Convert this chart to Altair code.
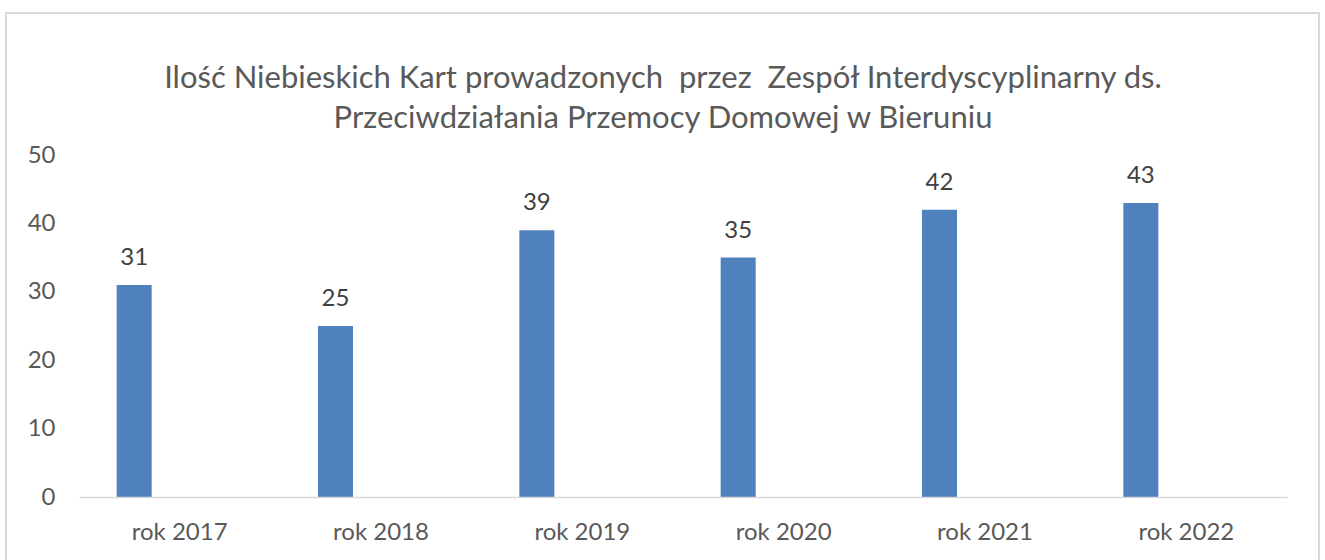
import altair as alt
import pandas as pd

years = ["rok 2017", "rok 2018", "rok 2019", "rok 2020", "rok 2021", "rok 2022"]
values = [31, 25, 39, 35, 42, 43]
title_lines = [
    "Ilość Niebieskich Kart prowadzonych \u00a0przez \u00a0Zespół Interdyscyplinarny ds.",
    "Przeciwdziałania Przemocy Domowej w Bieruniu",
]

df = pd.DataFrame({"rok": years, "ilosc": values})

FONT = "Lato"
GREY = "#595959"

x = alt.X("rok:N", sort=years, title=None,
          scale=alt.Scale(paddingInner=0, paddingOuter=0),
          axis=alt.Axis(labelAngle=0, labelFontSize=24, labelColor=GREY, labelFont=FONT,
                        ticks=False, domainColor="#d9d9d9", domainWidth=1.5,
                        labelPadding=23, grid=False, zindex=1))
y = alt.Y("ilosc:Q", title=None,
          scale=alt.Scale(domain=[0, 50]),
          axis=alt.Axis(values=[0, 10, 20, 30, 40, 50], labelFontSize=24, labelColor=GREY,
                        labelFont=FONT, ticks=False, domain=False, grid=False,
                        labelPadding=24, zindex=1))

border = alt.Chart(alt.Data(values=[{}])).mark_rect(
    fillOpacity=0, stroke="#d9d9d9", strokeWidth=2
).encode(x=alt.value(-73), x2=alt.value(1240), y=alt.value(-142), y2=alt.value(420))

title_layers = []
for i, line in enumerate(title_lines):
    title_layers.append(
        alt.Chart(alt.Data(values=[{}])).mark_text(
            text=line, fontSize=31, font=FONT, color=GREY, align="center",
            baseline="alphabetic"
        ).encode(x=alt.value(584), y=alt.value(-67 + 40 * i))
    )

bars = alt.Chart(df).mark_bar(size=35, xOffset=-45.5, color="#4f81bd").encode(x=x, y=y)

labels = alt.Chart(df).mark_text(
    xOffset=-45.5, dy=-20, baseline="alphabetic", fontSize=24, font=FONT, color="#404040"
).encode(x=alt.X("rok:N", sort=years), y="ilosc:Q", text="ilosc:Q")

chart = alt.layer(border, *title_layers, bars, labels).properties(
    width=1208,
    height=342,
    padding={"left": 79, "top": 155, "right": 38, "bottom": 63},
    autosize=alt.AutoSizeParams(type="none"),
).configure_view(stroke=None)

chart.save("out.html", embed_options={"renderer": "svg", "actions": False})
